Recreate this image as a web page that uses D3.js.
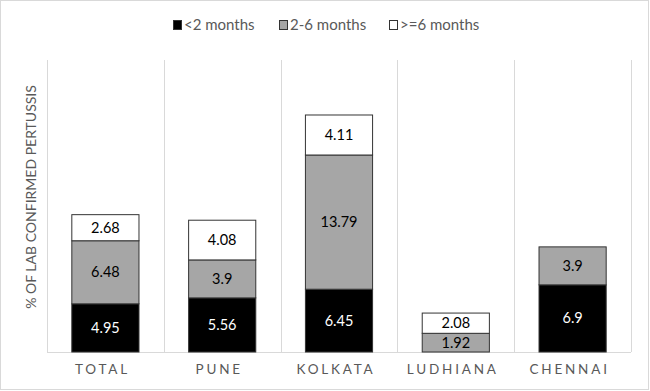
<!DOCTYPE html>
<html>
<head>
<meta charset="utf-8">
<script src="https://cdn.jsdelivr.net/npm/d3@7"></script>
<style>
  body { margin: 0; background: #fff; }
  svg { display: block; font-family: Lato, "Open Sans", sans-serif; }
</style>
</head>
<body>
<div id="chart"></div>
<script>
let categories = ["TOTAL", "PUNE", "KOLKATA", "LUDHIANA", "CHENNAI"];
let seriesNames = ["<2 months", "2-6 months", ">=6 months"];
let under2 = [4.95, 5.56, 6.45, 0, 6.9];
let twoToSix = [6.48, 3.9, 13.79, 1.92, 3.9];
let over6 = [2.68, 4.08, 4.11, 2.08, 0];
let colors = ["#000000", "#a6a6a6", "#ffffff"];
let textColors = ["#ffffff", "#000000", "#000000"];

let W = 650, H = 391;
let margin = {top: 60, right: 19, bottom: 39, left: 47};
let width = W - margin.left - margin.right;
let height = H - margin.top - margin.bottom;

let data = categories.map(function (c, i) {
    return {cat: c, s0: under2[i], s1: twoToSix[i], s2: over6[i]};
});
let stacked = d3.stack().keys(["s0", "s1", "s2"])(data);

let root = d3.select('#chart').append('svg')
    .attr('width', W).attr('height', H);

// outer border
root.append('rect')
    .attr('x', 0.5).attr('y', 0.5)
    .attr('width', W - 2).attr('height', H - 2)
    .attr('fill', '#fff').attr('stroke', '#d9d9d9');

let svg = root.append('g')
    .attr('transform', 'translate(' + margin.left + ',' + margin.top + ')');

let x = d3.scaleBand().domain(categories).range([0, width]).paddingInner(0).paddingOuter(0);
let y = d3.scaleLinear().domain([0, 30]).range([height, 0]);

// category separators
let seps = d3.range(categories.length + 1).map(function (i) { return i * x.bandwidth(); });
svg.selectAll('line.sep').data(seps).enter().append('line')
    .attr('class', 'sep')
    .attr('x1', function (d) { return Math.round(d) + 0.5; })
    .attr('x2', function (d) { return Math.round(d) + 0.5; })
    .attr('y1', 0).attr('y2', height)
    .attr('stroke', '#d9d9d9');

svg.append('line')
    .attr('x1', 0).attr('x2', width)
    .attr('y1', height + 0.5).attr('y2', height + 0.5)
    .attr('stroke', '#d9d9d9');

let barW = x.bandwidth() * 0.575;

let layers = svg.selectAll('g.layer').data(stacked).enter().append('g')
    .attr('class', 'layer');

layers.each(function (layer, li) {
    let g = d3.select(this);
    let segs = layer.filter(function (d) { return d[1] - d[0] > 0; });
    g.selectAll('rect').data(segs).enter().append('rect')
        .attr('x', function (d) { return x(d.data.cat) + (x.bandwidth() - barW) / 2; })
        .attr('y', function (d) { return y(d[1]); })
        .attr('width', barW)
        .attr('height', function (d) { return y(d[0]) - y(d[1]); })
        .attr('fill', colors[li])
        .attr('stroke', '#333')
        .attr('stroke-width', 1);
    g.selectAll('text').data(segs).enter().append('text')
        .attr('x', function (d) { return x(d.data.cat) + x.bandwidth() / 2; })
        .attr('y', function (d) { return (y(d[0]) + y(d[1])) / 2; })
        .attr('dy', '0.35em')
        .attr('text-anchor', 'middle')
        .attr('font-size', 14.5)
        .attr('fill', textColors[li])
        .text(function (d) { return +(d[1] - d[0]).toFixed(2); });
});

// category labels
svg.selectAll('text.cat').data(categories).enter().append('text')
    .attr('class', 'cat')
    .attr('x', function (d) { return x(d) + x.bandwidth() / 2 - 3; })
    .attr('y', height + 22)
    .attr('text-anchor', 'middle')
    .attr('font-size', 13.5)
    .attr('letter-spacing', 2.8)
    .attr('fill', '#595959')
    .text(function (d) { return d; });

// y axis title
svg.append('text')
    .attr('transform', 'rotate(-90)')
    .attr('x', -(height / 2) + 9)
    .attr('y', -11)
    .attr('text-anchor', 'middle')
    .attr('font-size', 14)
    .attr('fill', '#595959')
    .text('% OF LAB CONFIRMED PERTUSSIS');

// legend
let legendX = [173, 279, 389];
let legend = root.selectAll('g.leg').data(seriesNames).enter().append('g')
    .attr('class', 'leg')
    .attr('transform', function (d, i) { return 'translate(' + legendX[i] + ',20)'; });
legend.append('rect')
    .attr('x', 0.5).attr('y', 0.5)
    .attr('width', 8).attr('height', 9)
    .attr('fill', function (d, i) { return colors[i]; })
    .attr('stroke', '#333');
legend.append('text')
    .attr('x', 11).attr('y', 5)
    .attr('dy', '0.35em')
    .attr('font-size', 15)
    .attr('fill', '#595959')
    .text(function (d) { return d; });
</script>
</body>
</html>
